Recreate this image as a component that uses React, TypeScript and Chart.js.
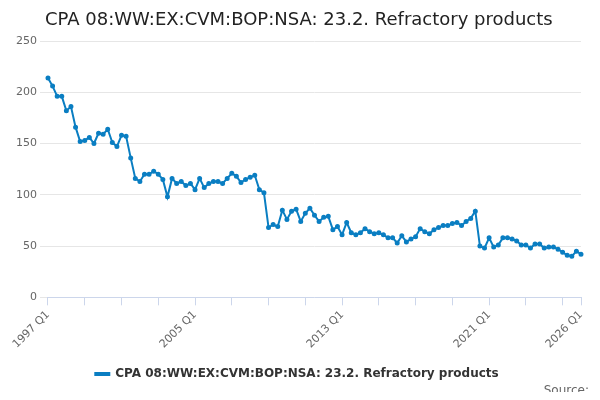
import React, { useEffect, useRef } from "react";
import { Chart, registerables } from "chart.js";
Chart.register(...registerables);

const years: number[] = [];
for (let y = 1997; y <= 2026; y++) years.push(y);
const labels: string[] = [];
years.forEach((y) => { for (let q = 1; q <= 4; q++) if (y < 2026 || q === 1) labels.push(`${y} Q${q}`); });

const values = [
  214, 206, 196, 196, 182, 186, 166, 152, 153, 156, 150, 160, 159, 164, 151, 147,
  158, 157, 136, 116, 113, 120, 120, 123, 120, 115, 98, 116, 111, 113, 109, 111,
  105, 116, 107, 111, 113, 113, 111, 116, 121, 118, 112, 115, 117, 119, 105, 102,
  68, 71, 69, 85, 76, 84, 86, 74, 82, 87, 80, 74, 78, 79, 66, 69,
  61, 73, 63, 61, 63, 67, 64, 62, 63, 61, 58, 58, 53, 60, 54, 57,
  59, 67, 64, 62, 66, 68, 70, 70, 72, 73, 70, 74, 77, 84, 50, 48,
  58, 49, 51, 58, 58, 57, 55, 51, 51, 48, 52, 52, 48, 49, 49, 47,
  44, 41, 40, 45, 42,
];
const seriesName = "CPA 08:WW:EX:CVM:BOP:NSA: 23.2. Refractory products";
const labelIdx = [0, 32, 64, 96, 116];

export default function App() {
  const ref = useRef<HTMLCanvasElement>(null);
  useEffect(() => {
    const chart = new Chart(ref.current!, {
      type: "line",
      data: {
        labels,
        datasets: [{
          label: seriesName, data: values, borderColor: "#0a7ec2", backgroundColor: "#0a7ec2",
          borderWidth: 2, pointRadius: 1.5, pointHoverRadius: 3, tension: 0,
        }],
      },
      options: {
        animation: false, responsive: false,
        layout: { padding: { left: 13, right: 19, top: 41, bottom: 10 } },
        plugins: {
          legend: { position: "bottom", labels: { color: "#333", font: { size: 12, family: "DejaVu Sans", weight: "bold" }, boxWidth: 14, boxHeight: 2, padding: 14 } },
        },
        scales: {
          x: {
            grid: { drawOnChartArea: false, color: "#ccd6eb", tickLength: 8 },
            border: { color: "#ccd6eb" },
            afterBuildTicks: (axis: any) => {
              axis.ticks = axis.ticks.filter((t: any) => t.value % 8 === 0 || t.value === 116);
            },
            ticks: {
              autoSkip: false, maxRotation: 45, minRotation: 45, color: "#666",
              font: { size: 11, family: "DejaVu Sans" },
              callback: (v: any) => (labelIdx.includes(Number(v)) ? labels[Number(v)] : ""),
            },
          },
          y: {
            min: 0, max: 250,
            ticks: { stepSize: 50, color: "#666", font: { size: 11, family: "DejaVu Sans" } },
            grid: { color: "#e6e6e6" }, border: { display: false },
          },
        },
      },
    });
    return () => chart.destroy();
  }, []);
  return (
    <div style={{ position: "relative", width: 600, height: 400, margin: -8 }}>
      <canvas ref={ref} width={600} height={400} />
      <div style={{ position: "absolute", left: 45, top: 8, fontFamily: "DejaVu Sans", fontSize: 18, color: "#222" }}>{seriesName}</div>
      <div style={{ position: "absolute", right: 11, bottom: 3, fontFamily: "DejaVu Sans", fontSize: 12, color: "#666" }}>Source:</div>
    </div>
  );
}
